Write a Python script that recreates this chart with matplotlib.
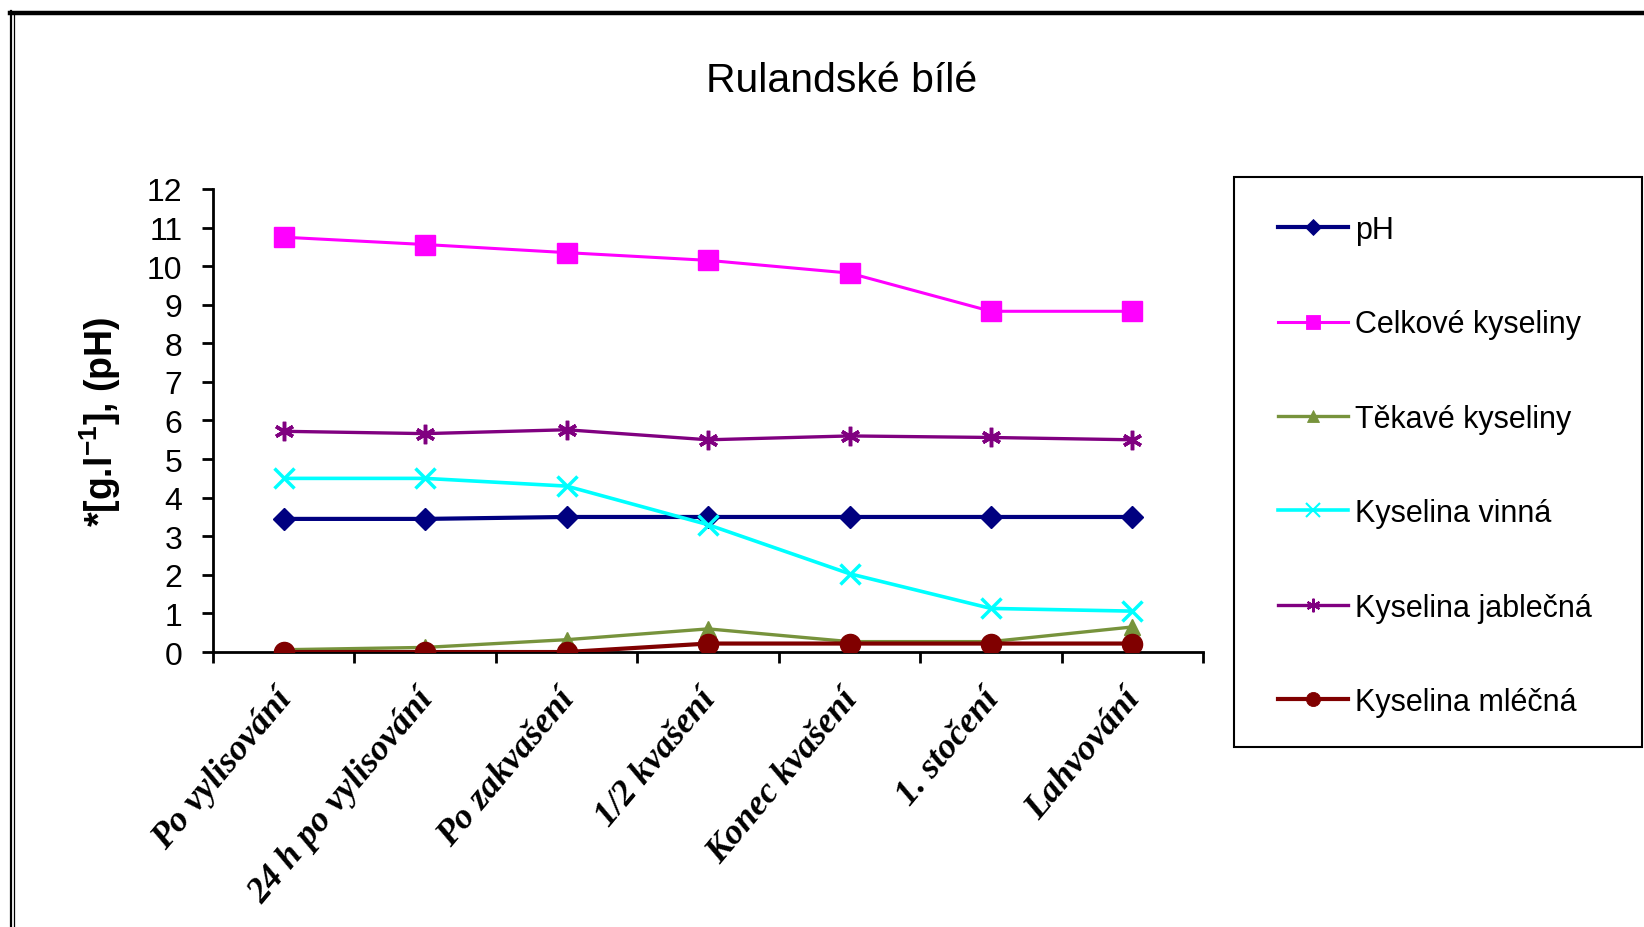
import numpy as np
import matplotlib.pyplot as plt
from matplotlib.lines import Line2D
from matplotlib.patches import Rectangle
from matplotlib.transforms import ScaledTranslation

plt.rcParams['font.family'] = ['Liberation Sans', 'DejaVu Sans']
plt.rcParams['mathtext.fontset'] = 'custom'
plt.rcParams['mathtext.bf'] = 'Liberation Sans:bold'
plt.rcParams['mathtext.rm'] = 'Liberation Sans'

# sampling stages of the wine
stages = ['Po vylisování', '24 h po vylisování', 'Po zakvašení', '1/2 kvašení',
          'Konec kvašení', '1. stočení', 'Lahvování']

ph = [3.45, 3.45, 3.5, 3.5, 3.5, 3.5, 3.5]
celkove = [10.75, 10.56, 10.35, 10.15, 9.82, 8.83, 8.83]
tekave = [0.06, 0.12, 0.32, 0.6, 0.27, 0.27, 0.65]
vinna = [4.5, 4.5, 4.3, 3.3, 2.03, 1.13, 1.06]
jablecna = [5.72, 5.66, 5.76, 5.5, 5.6, 5.56, 5.5]
mlecna = [0.0, 0.0, 0.0, 0.22, 0.22, 0.22, 0.22]

series = [
    ('pH', ph, '#000080', 'D', 11.5, 3.0),
    ('Celkové kyseliny', celkove, '#FF00FF', 's', 14, 2.2),
    ('Těkavé kyseliny', tekave, '#77933C', '^', 12, 2.4),
    ('Kyselina vinná', vinna, '#00FFFF', 'x', 14, 2.6),
    ('Kyselina jablečná', jablecna, '#800080', (6, 2, 0), 14, 2.4),
    ('Kyselina mléčná', mlecna, '#800000', 'o', 14.5, 3.0),
]

fig = plt.figure(figsize=(16.44, 9.28), dpi=100)
ax = fig.add_axes([0.1296, 0.2963, 0.6022, 0.4990])

x = np.arange(len(stages)) + 0.5
handles = []
for name, vals, col, mk, ms, lw in series:
    mew = 2.5 if mk in ('x',) or isinstance(mk, tuple) else 1
    ax.plot(x, vals, color=col, lw=lw, marker=mk, ms=ms, mec=col, mfc=col,
            mew=mew, zorder=3)
    handles.append(Line2D([], [], color=col, lw=lw, marker=mk, ms=ms * 0.7,
                          mec=col, mfc=col, mew=mew * 0.6))

ax.set_xlim(0, len(stages))
ax.set_ylim(0, 12)
ax.set_yticks(range(0, 13))
ax.tick_params(axis='y', labelsize=23, length=8, width=2, direction='out', pad=14)

ax.set_xticks(np.arange(len(stages) + 1))
ax.set_xticklabels([])
ax.tick_params(axis='x', which='major', length=8, width=2, direction='out')
ax.set_xticks(x, minor=True)
ax.set_xticklabels(stages, minor=True, rotation=50, ha='right',
                   rotation_mode='anchor', fontsize=26,
                   family='Liberation Serif', fontweight='bold', style='italic')
ax.tick_params(axis='x', which='minor', length=0, pad=22)
shift = ScaledTranslation(-10 / 100, 0, fig.dpi_scale_trans)
for lab in ax.get_xticklabels(minor=True):
    lab.set_transform(lab.get_transform() + shift)

for side in ('top', 'right'):
    ax.spines[side].set_visible(False)
for side in ('left', 'bottom'):
    ax.spines[side].set_linewidth(2)

ax.set_ylabel(r'*[g.l$^{\mathbf{-1}}$], (pH)', fontsize=27, fontweight='bold',
              labelpad=17)

fig.text(0.512, 0.913, 'Rulandské bílé', ha='center', va='center', fontsize=29.5)

# legend box runs off the right edge
fig.add_artist(Rectangle((0.7506, 0.194), 0.2482, 0.6142, fill=False,
                         edgecolor='black', lw=1.5, transform=fig.transFigure))
leg = fig.legend(handles, [s[0] for s in series], loc='upper left',
                 bbox_to_anchor=(0.7775, 0.7675), frameon=False, fontsize=22,
                 handlelength=2.3, handletextpad=0.2, labelspacing=2.11,
                 borderpad=0, borderaxespad=0)

# outer frame lines
fig.add_artist(Line2D([0.006, 1.0], [0.985, 0.985], color='black', lw=3.2,
                      transform=fig.transFigure))
fig.add_artist(Line2D([0.0065, 0.0065], [0.0, 0.987], color='black', lw=1.6,
                      transform=fig.transFigure))
fig.add_artist(Line2D([0.0088, 0.0088], [0.0, 0.985], color='black', lw=0.9,
                      transform=fig.transFigure))

fig.savefig('out.png', dpi=100)
